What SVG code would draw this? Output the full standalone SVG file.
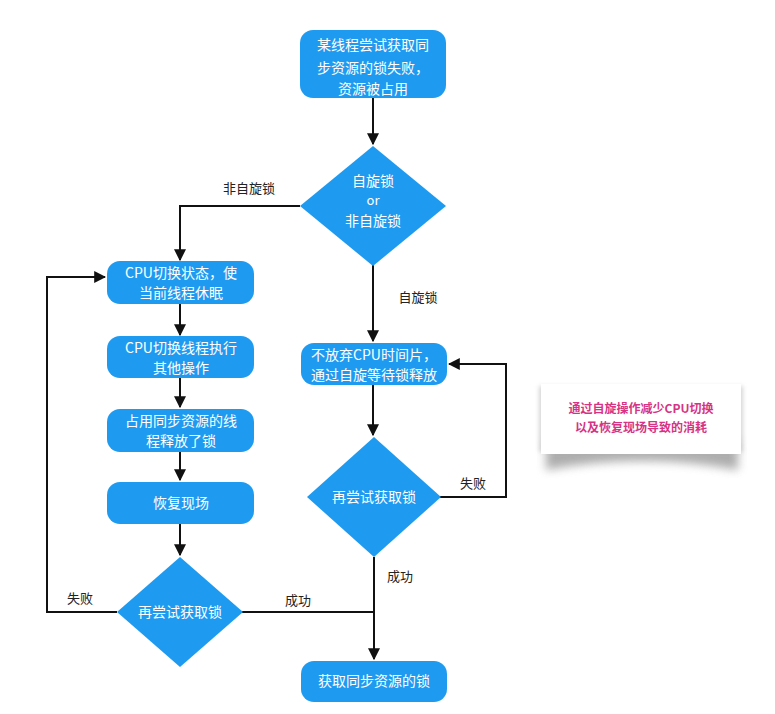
<svg xmlns="http://www.w3.org/2000/svg" width="775" height="714" viewBox="0 0 775 714">
<defs>
<style>
.box{fill:#1E9BF0;}
.t{font-family:"Noto Sans CJK SC","Liberation Sans",sans-serif;font-size:14px;fill:#ffffff;text-anchor:middle;}
.lbl{font-family:"Noto Sans CJK SC","Liberation Sans",sans-serif;font-size:13px;fill:#222222;text-anchor:middle;}
.note{font-family:"Noto Sans CJK SC","Liberation Sans",sans-serif;font-size:12px;fill:#D63384;text-anchor:middle;font-weight:bold;}
.ln{fill:none;stroke:#111111;stroke-width:2;}
</style>
<marker id="ah" viewBox="0 0 10 10" refX="9" refY="5" markerWidth="6" markerHeight="6" orient="auto" markerUnits="strokeWidth">
<path d="M0,0 L10,5 L0,10 z" fill="#111111"/>
</marker>
<filter id="blur" x="-20%" y="-50%" width="140%" height="200%">
<feGaussianBlur stdDeviation="5"/>
</filter>
<filter id="edge" x="-10%" y="-20%" width="120%" height="140%">
<feGaussianBlur stdDeviation="2"/>
</filter>
</defs>
<rect width="775" height="714" fill="#ffffff"/>

<g id="connectors">
<path class="ln" d="M373,98 V144" marker-end="url(#ah)"/>
<path class="ln" d="M300,206 H180 V260" marker-end="url(#ah)"/>
<path class="ln" d="M180,304 V335" marker-end="url(#ah)"/>
<path class="ln" d="M180,378 V407" marker-end="url(#ah)"/>
<path class="ln" d="M180,452 V480" marker-end="url(#ah)"/>
<path class="ln" d="M180,524 V555" marker-end="url(#ah)"/>
<path class="ln" d="M117,612 H47 V277 H105" marker-end="url(#ah)"/>
<path class="ln" d="M242,612 H374"/>
<path class="ln" d="M373,265 V341" marker-end="url(#ah)"/>
<path class="ln" d="M373,385 V435" marker-end="url(#ah)"/>
<path class="ln" d="M440,497 H506 V364 H449" marker-end="url(#ah)"/>
<path class="ln" d="M374,557 V659" marker-end="url(#ah)"/>
<text class="lbl" x="249" y="193">非自旋锁</text>
<text class="lbl" x="418" y="302">自旋锁</text>
<text class="lbl" x="473" y="488">失败</text>
<text class="lbl" x="400" y="581">成功</text>
<text class="lbl" x="80" y="603">失败</text>
<text class="lbl" x="298" y="605">成功</text>
</g>

<g id="start">
<rect class="box" x="300" y="30" width="146" height="68" rx="13"/>
<text class="t" x="373" y="50">某线程尝试获取同</text>
<text class="t" x="373" y="73">步资源的锁失败，</text>
<text class="t" x="373" y="94">资源被占用</text>
</g>

<g id="decision1">
<polygon class="box" points="373,146 446,206 373,266 300,206"/>
<text class="t" x="373" y="186">自旋锁</text>
<text class="t" x="373" y="205" style="font-size:13px">or</text>
<text class="t" x="373" y="226">非自旋锁</text>
</g>

<g id="sleep">
<rect class="box" x="107" y="261" width="147" height="43" rx="13"/>
<text class="t" x="181" y="278">CPU切换状态，使</text>
<text class="t" x="181" y="298">当前线程休眠</text>
</g>

<g id="switch">
<rect class="box" x="107" y="336" width="147" height="42" rx="13"/>
<text class="t" x="181" y="353">CPU切换线程执行</text>
<text class="t" x="181" y="373">其他操作</text>
</g>

<g id="release">
<rect class="box" x="107" y="409" width="147" height="43" rx="13"/>
<text class="t" x="181" y="426">占用同步资源的线</text>
<text class="t" x="181" y="446">程释放了锁</text>
</g>

<g id="restore">
<rect class="box" x="107" y="482" width="147" height="42" rx="13"/>
<text class="t" x="181" y="508">恢复现场</text>
</g>

<g id="retry-left">
<polygon class="box" points="180,557 243,612 180,667 117,612"/>
<text class="t" x="180" y="617">再尝试获取锁</text>
</g>

<g id="spin">
<rect class="box" x="301" y="343" width="146" height="42" rx="13"/>
<text class="t" x="374" y="360">不放弃CPU时间片，</text>
<text class="t" x="374" y="380">通过自旋等待锁释放</text>
</g>

<g id="retry-right">
<polygon class="box" points="374,437 441,497 374,557 307,497"/>
<text class="t" x="374" y="502">再尝试获取锁</text>
</g>

<g id="acquired">
<rect class="box" x="301" y="661" width="146" height="41" rx="13"/>
<text class="t" x="374" y="686">获取同步资源的锁</text>
</g>

<g id="note">
<path d="M546,440 L738,440 L738,470 Q642,452 546,470 Z" fill="#777777" opacity="0.6" filter="url(#blur)"/>
<rect x="539" y="386" width="204" height="66" fill="#bbbbbb" opacity="0.6" filter="url(#edge)"/>
<rect x="541" y="384" width="200" height="70" fill="#ffffff"/>
<text class="note" x="641" y="413">通过自旋操作减少CPU切换</text>
<text class="note" x="641" y="432">以及恢复现场导致的消耗</text>
</g>
</svg>
